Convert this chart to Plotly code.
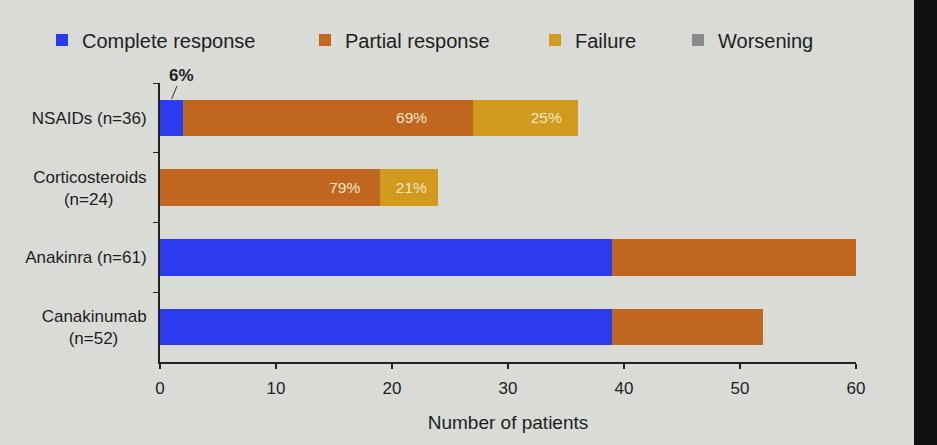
import plotly.graph_objects as go

NB = "\u00a0"
categories = [
    "NSAIDs (n=36)",
    "Corticosteroids<br>(n=24)" + NB * 7,
    "Anakinra (n=61)",
    "Canakinumab<br>(n=52)" + NB * 6,
]
complete = [2, 0, 39, 39]
partial = [25, 19, 22, 13]
failure = [9, 5, 0, 0]
worsening = [0, 0, 0, 0]
partial_labels = ["69%" + NB * 10, "79%" + NB * 4, "", ""]
failure_labels = ["25%" + NB * 3, "21%" + NB * 2, "", ""]
complete_note = "6%"
x_ticks = [0, 10, 20, 30, 40, 50, 60]

W, H = 937, 445
FONT = "Liberation Sans, Arial, sans-serif"
TXT = "#1e1e1e"

fig = go.Figure()
series = [
    ("Complete response", complete, "#2b3cf0", None, "legend"),
    ("Partial response", partial, "#c1661f", partial_labels, "legend2"),
    ("Failure", failure, "#d19a1d", failure_labels, "legend3"),
    ("Worsening", worsening, "#8a8a8a", None, "legend4"),
]
for name, vals, col, labels, lg in series:
    fig.add_trace(go.Bar(
        y=categories, x=vals, name=name, orientation="h",
        marker=dict(color=col, line=dict(width=0)),
        text=labels, textposition="inside" if labels else "none",
        insidetextanchor="end", textangle=0,
        textfont=dict(color="#f6e7c9", size=15.5, family=FONT),
        legend=lg, width=0.52, showlegend=True,
    ))

legend_x = [82, 345, 575, 718]
legend_keys = ["legend", "legend2", "legend3", "legend4"]
lay = {}
for k, px in zip(legend_keys, legend_x):
    lay[k] = dict(
        x=(px - 40) / W, xref="container", xanchor="left",
        y=1 - 40 / H, yref="container", yanchor="middle",
        orientation="h", bgcolor="rgba(0,0,0,0)",
        font=dict(size=20, color=TXT, family=FONT),
        itemwidth=30, borderwidth=0,
    )

fig.update_layout(
    width=W, height=H,
    showlegend=True,
    barmode="stack",
    bargap=0.48,
    paper_bgcolor="#d9dbd6",
    plot_bgcolor="#d9dbd6",
    margin=dict(l=160, r=81, t=83, b=83),
    font=dict(family=FONT, color=TXT),
    uniformtext=dict(mode="show", minsize=10),
    **lay,
)
fig.update_xaxes(
    range=[0, 60], tickvals=x_ticks, showgrid=False, zeroline=False,
    showline=True, linecolor="#222", linewidth=2,
    ticks="outside", ticklen=5, tickcolor="#222", tickwidth=1.5,
    tickfont=dict(size=17, color=TXT), ticklabelstandoff=5,
    title=dict(text="Number of patients", font=dict(size=19, color=TXT), standoff=18),
)
fig.update_yaxes(
    autorange="reversed", showgrid=False, zeroline=False,
    showline=True, linecolor="#222", linewidth=2,
    ticks="outside", tickson="boundaries", ticklen=5, tickcolor="#222",
    tickfont=dict(size=17, color=TXT), ticklabelstandoff=8,
)
fig.add_annotation(
    x=complete[0] / 2, y=-0.27, xref="x", yref="y",
    text="<b>" + complete_note + "</b>", showarrow=True,
    ax=10, ay=-24, arrowhead=0, arrowwidth=1, arrowcolor="#333", standoff=0,
    font=dict(size=17, color=TXT),
)
# dark edge of the projected slide at right
fig.add_shape(type="rect", xref="paper", yref="paper",
              x0=(914 - 160) / 696, x1=1.2, y0=-0.5, y1=1.5,
              fillcolor="#111", line=dict(width=0), layer="above")

fig.write_html("out.html", config={"displayModeBar": False},
               post_script="document.body.style.margin='0';")
